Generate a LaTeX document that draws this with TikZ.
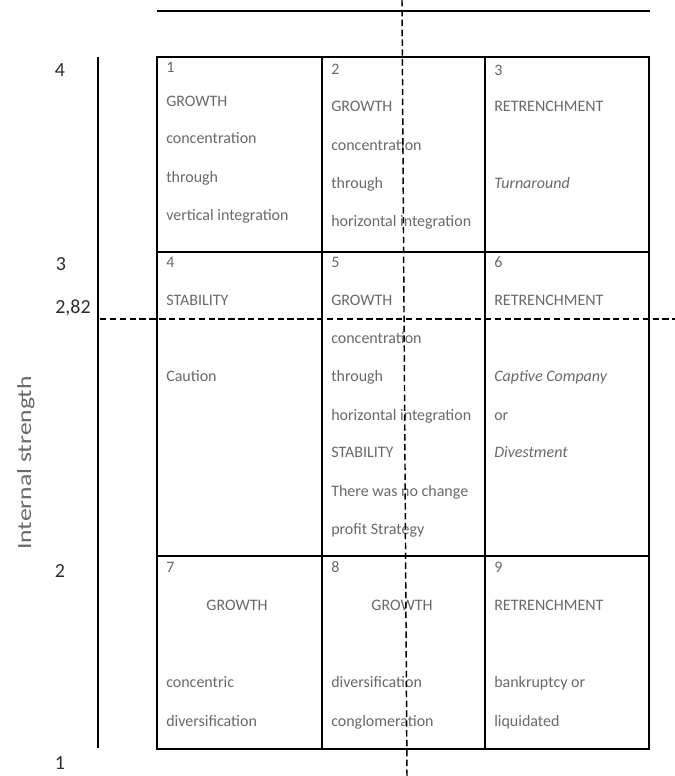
\documentclass[tikz,border=0pt]{standalone}
\usepackage{fontspec}
\setmainfont{Carlito}
\usepackage{graphicx}
\definecolor{celltext}{RGB}{105,105,105}
\definecolor{axistext}{RGB}{45,45,45}
\begin{document}
\begin{tikzpicture}[x=0.75pt,y=-0.75pt,
  cell/.style={draw=black,line width=1.1pt,anchor=north west,inner sep=0pt,outer sep=0pt},
  txt/.style={anchor=west,inner sep=0pt,text=celltext,font=\fontsize{12pt}{14pt}\selectfont,text height=1.5ex,text depth=0.25ex},
  ctxt/.style={txt,anchor=center},
  itxt/.style={txt,font=\fontsize{12pt}{14pt}\selectfont\itshape},
  axlab/.style={inner sep=0pt,text=axistext,font=\fontsize{15pt}{17pt}\selectfont,text height=1.5ex,text depth=0.25ex},
  solidline/.style={line width=1.1pt,draw=black},
  dashline/.style={line width=1.1pt,draw=black,dash pattern=on 4.8pt off 2.6pt}]
\useasboundingbox (0,0) rectangle (675,776);

% grid cells
\node[cell,minimum width=123.75pt,minimum height=146.25pt] (c1) at (157,57) {};
\node[cell,minimum width=122.25pt,minimum height=146.25pt] (c2) at (322,57) {};
\node[cell,minimum width=123pt,minimum height=146.25pt] (c3) at (485,57) {};
\node[cell,minimum width=123.75pt,minimum height=228pt] (c4) at (157,252) {};
\node[cell,minimum width=122.25pt,minimum height=228pt] (c5) at (322,252) {};
\node[cell,minimum width=123pt,minimum height=228pt] (c6) at (485,252) {};
\node[cell,minimum width=123.75pt,minimum height=144.75pt] (c7) at (157,556) {};
\node[cell,minimum width=122.25pt,minimum height=144.75pt] (c8) at (322,556) {};
\node[cell,minimum width=123pt,minimum height=144.75pt] (c9) at (485,556) {};

% top line and axis line
\coordinate (topL) at (157,11);
\coordinate (topR) at (650,11);
\draw[solidline] (topL) -- (topR);
\coordinate (axT) at (98,57);
\coordinate (axB) at (98,748);
\draw[solidline] (axT) -- (axB);

% cell 1
\node[txt] (n1) at (166,69) {1};
\node[txt] (t1a) at (166,103) {GROWTH};
\node[txt] (t1b) at (166,140) {concentration};
\node[txt] (t1c) at (166,179) {through};
\node[txt] (t1d) at (166,217) {vertical integration};
% cell 2
\node[txt] (n2) at (331,71) {2};
\node[txt] (t2a) at (331,108) {GROWTH};
\node[txt] (t2b) at (331,147) {concentration};
\node[txt] (t2c) at (331,185) {through};
\node[txt] (t2d) at (331,223) {horizontal integration};
% cell 3
\node[txt] (n3) at (494,72) {3};
\node[txt] (t3a) at (494,108) {RETRENCHMENT};
\node[itxt] (t3b) at (494,185) {Turnaround};
% cell 4
\node[txt] (n4) at (166,264) {4};
\node[txt] (t4a) at (166,302) {STABILITY};
\node[txt] (t4b) at (166,378) {Caution};
% cell 5
\node[txt] (n5) at (331,264) {5};
\node[txt] (t5a) at (331,302) {GROWTH};
\node[txt] (t5b) at (331,340) {concentration};
\node[txt] (t5c) at (331,378) {through};
\node[txt] (t5d) at (331,417) {horizontal integration};
\node[txt] (t5e) at (331,454) {STABILITY};
\node[txt] (t5f) at (331,493) {There was no change};
\node[txt] (t5g) at (331,531) {profit Strategy};
% cell 6
\node[txt] (n6) at (494,264) {6};
\node[txt] (t6a) at (494,302) {RETRENCHMENT};
\node[itxt] (t6b) at (494,378) {Captive Company};
\node[txt] (t6c) at (494,417) {or};
\node[itxt] (t6d) at (494,454) {Divestment};
% cell 7
\node[txt] (n7) at (166,569) {7};
\node[ctxt] (t7a) at (237,607) {GROWTH};
\node[txt] (t7b) at (166,684) {concentric};
\node[txt] (t7c) at (166,723) {diversification};
% cell 8
\node[txt] (n8) at (331,569) {8};
\node[ctxt] (t8a) at (402,607) {GROWTH};
\node[txt] (t8b) at (331,684) {diversification};
\node[txt] (t8c) at (331,723) {conglomeration};
% cell 9
\node[txt] (n9) at (494,569) {9};
\node[txt] (t9a) at (494,607) {RETRENCHMENT};
\node[txt] (t9b) at (494,684) {bankruptcy or};
\node[txt] (t9c) at (494,723) {liquidated};

% axis labels
\node[axlab] (l4) at (60,73) {4};
\node[axlab] (l3) at (61,267) {3};
\node[axlab] (l282) at (73,310) {2,82};
\node[axlab] (l2) at (60,574) {2};
\node[axlab] (l1) at (60,766) {1};
\node[inner sep=0pt,text=celltext,font=\fontsize{15pt}{17pt}\selectfont,rotate=90] (ylab) at (26,463) {\scalebox{1.28}[1]{Internal strength}};

% dashed lines
\coordinate (vT) at (402,0);
\coordinate (vB) at (407,776);
\draw[dashline] (vT) -- (vB);
\coordinate (hL) at (100,319);
\coordinate (hR) at (675,319);
\draw[dashline] (hL) -- (hR);
\end{tikzpicture}
\end{document}
